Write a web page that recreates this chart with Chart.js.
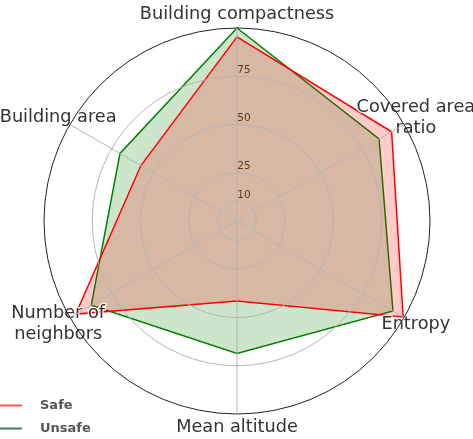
<!DOCTYPE html>
<html>
<head>
<meta charset="utf-8">
<script src="https://cdn.jsdelivr.net/npm/chart.js@4/dist/chart.umd.min.js"></script>
<style>
  body { margin: 0; background: #fff; }
  #wrap { width: 473px; height: 439px; position: relative; }
</style>
</head>
<body>
<div id="wrap"><canvas id="radarChart"></canvas></div>
<script>
// Axes, clockwise from the top
const categories = [
    "Building compactness",
    ["Covered area", "ratio"],
    "Entropy",
    "Mean altitude",
    ["Number of", "neighbors"],
    "Building area"
];
const safeValues = [95.4, 92.5, 99.4, 41.5, 96.5, 57.5];
const unsafeValues = [100, 85, 93.3, 68.6, 87.2, 70];
const tickValues = [10, 25, 50, 75];

const FONT = "'DejaVu Sans', sans-serif";

// Draw labels with a white halo, like the original
function haloText(ctx, text, x, y, font, color, halo) {
    ctx.font = font;
    ctx.textAlign = "center";
    ctx.textBaseline = "middle";
    ctx.lineJoin = "round";
    ctx.strokeStyle = "rgba(255,255,255,0.9)";
    ctx.lineWidth = halo;
    ctx.strokeText(text, x, y);
    ctx.fillStyle = color;
    ctx.fillText(text, x, y);
}

// Tick numbers sit just right of the vertical axis, under the fills
const tickLabelPlugin = {
    id: "tickLabels",
    beforeDatasetsDraw(chart) {
        const scale = chart.scales.r;
        const ctx = chart.ctx;
        ctx.save();
        tickValues.forEach(v => {
            const r = scale.getDistanceFromCenterForValue(v);
            haloText(ctx, String(v), scale.xCenter + 7, scale.yCenter - r - 6, "10.5px " + FONT, "#3a3a3a", 3);
        });
        ctx.restore();
    }
};

// Axis names centred just outside the outer ring
const pointLabelPlugin = {
    id: "pointLabelsCentered",
    afterDatasetsDraw(chart) {
        const scale = chart.scales.r;
        const ctx = chart.ctx;
        const lineH = 21;
        ctx.save();
        categories.forEach((label, i) => {
            const pos = scale.getPointPositionForValue(i, 107);
            const lines = Array.isArray(label) ? label : [label];
            const y0 = pos.y - (lines.length - 1) * lineH / 2;
            lines.forEach((line, k) => {
                haloText(ctx, line, pos.x, y0 + k * lineH, "17.7px " + FONT, "#333", 2.5);
            });
        });
        ctx.restore();
    }
};

// Legend in the bottom-left corner
const legendPlugin = {
    id: "cornerLegend",
    afterDraw(chart) {
        const ctx = chart.ctx;
        const rows = [
            { text: chart.data.datasets[0].label, color: "#ff5a4a", y: 405.5 },
            { text: chart.data.datasets[1].label, color: "#3d7a6a", y: 428.5 }
        ];
        ctx.save();
        rows.forEach(row => {
            ctx.strokeStyle = row.color;
            ctx.lineWidth = 2;
            ctx.beginPath();
            ctx.moveTo(0, row.y);
            ctx.lineTo(22, row.y);
            ctx.stroke();
            ctx.font = "bold 13px " + FONT;
            ctx.fillStyle = "#555";
            ctx.textAlign = "left";
            ctx.textBaseline = "middle";
            ctx.fillText(row.text, 40, row.y);
        });
        ctx.restore();
    }
};

const radarChart = new Chart(document.getElementById("radarChart"), {
    type: "radar",
    data: {
        labels: categories,
        datasets: [
            {
                label: "Safe",
                data: safeValues,
                borderColor: "#ff0000",
                backgroundColor: "rgba(255, 0, 0, 0.2)",
                borderWidth: 1.5,
                pointRadius: 0,
                fill: true
            },
            {
                label: "Unsafe",
                data: unsafeValues,
                borderColor: "#008000",
                backgroundColor: "rgba(0, 128, 0, 0.2)",
                borderWidth: 1.5,
                pointRadius: 0,
                fill: true
            }
        ]
    },
    options: {
        responsive: true,
        maintainAspectRatio: false,
        animation: false,
        layout: { padding: { top: 28, bottom: 24, left: 1, right: 0 } },
        plugins: {
            legend: { display: false },
            tooltip: { enabled: false }
        },
        elements: { line: { tension: 0 } },
        scales: {
            r: {
                min: 0,
                max: 100,
                afterBuildTicks: (scale) => {
                    scale.ticks = [0, ...tickValues, 100].map(v => ({ value: v }));
                },
                ticks: { display: false },
                pointLabels: { display: false },
                grid: {
                    z: 1, // grid drawn over the fills, as in the original
                    circular: true,
                    color: (ctx) => (ctx.tick && ctx.tick.value === 100 ? "#222" : "#b4b4b4"),
                    lineWidth: 1
                },
                angleLines: { color: "#b4b4b4", lineWidth: 1 }
            }
        }
    },
    plugins: [tickLabelPlugin, pointLabelPlugin, legendPlugin]
});
</script>
</body>
</html>
